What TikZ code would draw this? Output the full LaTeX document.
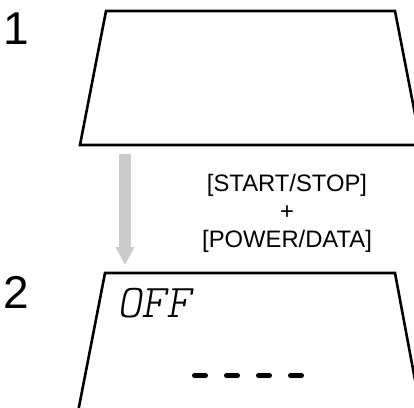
\documentclass[tikz,border=0pt]{standalone}
\usepackage{fontspec}
\setmainfont{Liberation Sans}
\usetikzlibrary{arrows.meta}
\definecolor{arrowgray}{HTML}{CCCCCC}

\begin{document}
\begin{tikzpicture}[x=1pt, y=-1pt,
    screen/.style={line width=2.6pt, line join=miter},
    steplabel/.style={font=\fontsize{46}{46}\selectfont, inner sep=0pt},
    keytext/.style={font=\fontsize{23.8}{28}\selectfont, align=center, inner sep=0pt},
    lcdtext/.style={font=\ttfamily\fontseries{l}\fontshape{sl}\fontsize{47}{47}\selectfont, inner sep=0pt},
    flowarrow/.style={-{Triangle[width=18pt,length=18pt]}, arrowgray, line width=12pt}]
  \useasboundingbox (0,0) rectangle (414,407);
  \begin{scope}
    \clip (0,0) rectangle (414,407);
    % the two display screens
    \draw[screen] (106,11) -- (395,11) -- (421,145) -- (80,145) -- cycle;
    \draw[screen] (78,412) -- (105,273) -- (395,273) -- (421,412);
  \end{scope}

  \node[steplabel] (one) at (16,29) {1};
  \node[steplabel] (two) at (16,292) {2};

  \coordinate (from) at (125,154);
  \coordinate (to)   at (125,265);
  \draw[flowarrow] (from) -- (to);

  \node[keytext] (keys) at (287,213) {{[START/STOP]}\\+\\{[POWER/DATA]}};

  % display contents of step 2
  \node[lcdtext, anchor=base west] (off) at (117,317) {OFF};
  \foreach \x in {192,224,256,288}
    \draw[line width=5pt, line cap=round] (\x+2.5,375.5) -- (\x+13.5,375.5);
\end{tikzpicture}
\end{document}
